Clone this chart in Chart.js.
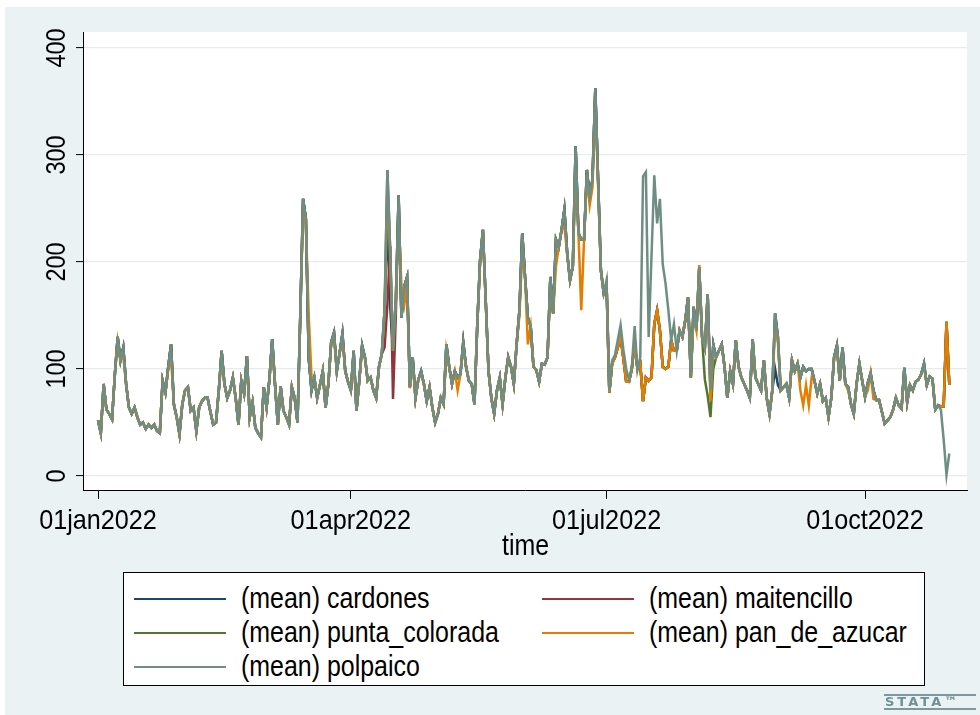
<!DOCTYPE html>
<html>
<head>
<meta charset="utf-8">
<title>Daily means 2022</title>
<script src="https://cdn.jsdelivr.net/npm/chart.js@4.4.1/dist/chart.umd.min.js"></script>
<style>
  html, body { margin: 0; padding: 0; background: #fff; }
  #frame { position: absolute; left: 5px; top: 7px; width: 975px; height: 708px; background: #eaf2f3; }
  #wrap { position: absolute; left: 0; top: 0; width: 980px; height: 715px; }
  .txt { position: absolute; font-family: "Liberation Sans", Arial, sans-serif; color: #000; line-height: 1; white-space: nowrap;
         transform: scaleX(0.86); transform-origin: left center; }
  #xtitle { left: 502px; top: 531px; font-size: 29px; }
  #legend { position: absolute; left: 123px; top: 572px; width: 800px; height: 112px; background: #fff; border: 1px solid #000; }
  .sample { position: absolute; width: 92px; height: 2px; }
  .item { font-size: 29px; }
  #logo { position: absolute; left: 884px; top: 694px; width: 91px; height: 12px; border-top: 2px solid #7c9a9e; border-bottom: 2px solid #7c9a9e;
          font-family: "DejaVu Sans", sans-serif; font-weight: bold; font-size: 13px; line-height: 12px; letter-spacing: 3px; color: #6f9095; padding-left: 1px; }
</style>
</head>
<body>
<div id="frame"></div>
<div id="wrap"><canvas id="chart" width="980" height="715"></canvas></div>
<div class="txt" id="xtitle">time</div>
<div id="legend"></div>
<div id="logo">STATA™</div>
<script>
// x axis: day index counted from 01jan2022
const tickDays = [0, 90, 181, 273];
const tickLabels = ['01jan2022', '01apr2022', '01jul2022', '01oct2022'];
const yTicks = [0, 100, 200, 300, 400];

const seriesNames = ['(mean) cardones', '(mean) maitencillo', '(mean) punta_colorada', '(mean) pan_de_azucar', '(mean) polpaico'];
const seriesColors = ['#1a476f', '#90353b', '#55752f', '#e37e00', '#6e8e84'];

// daily values, one row per month (jan .. oct)
const polpaico = [
  52,40,86,62,58,53,95,130,108,120,86,64,58,64,55,48,50,44,48,45,48,42,40,89,78,102,123,67,55,39,67,
  80,83,61,64,42,64,70,73,73,60,48,50,80,117,86,73,80,92,73,48,89,77,112,55,69,45,40,36,
  83,64,90,128,86,48,84,61,55,48,83,73,50,150,259,240,110,80,92,73,85,98,64,86,125,134,98,115,133,98,88,
  80,117,61,89,122,111,89,92,80,73,102,114,155,286,211,117,164,262,148,177,186,83,111,73,90,98,86,70,83,64,
  50,58,73,67,123,102,86,98,92,95,125,102,89,86,67,142,202,230,164,98,73,58,80,92,67,92,111,102,86,123,155,
  227,186,148,140,102,99,88,105,104,111,186,152,221,214,230,249,208,183,196,308,227,221,221,286,261,277,362,277,192,171,
  183,80,108,113,127,141,118,100,90,102,140,99,111,280,284,130,205,281,236,259,198,180,155,127,142,117,136,130,145,167,92,
  158,136,195,130,120,170,80,123,111,117,123,102,73,98,86,127,102,92,86,80,73,128,92,86,80,108,73,58,80,152,130,
  80,83,86,73,108,98,105,92,102,98,100,100,89,77,86,70,73,55,73,111,122,89,120,86,83,67,58,86,105,89,
  74,87,96,80,71,71,60,49,52,55,62,73,66,63,101,69,85,80,88,90,95,105,85,93,91,62,66,62,34,1,21
];

const panDeAzucar = [
  52,40,86,62,58,53,95,126,108,112,86,64,58,64,55,48,50,44,48,45,48,42,40,89,78,100,110,67,55,39,67,
  80,83,61,64,42,64,70,73,73,60,48,50,80,110,86,73,80,92,73,48,89,77,105,55,69,45,40,36,
  83,64,90,120,86,48,84,61,55,48,83,73,50,150,250,235,150,92,92,73,85,98,64,86,125,130,98,115,128,98,88,
  80,112,61,89,118,111,89,92,80,73,102,114,150,270,205,117,164,240,178,160,178,82,105,73,90,95,86,70,83,64,
  50,58,73,67,118,102,86,98,80,95,120,102,89,86,67,142,200,228,164,98,73,58,80,92,67,92,111,102,86,123,150,
  210,186,123,140,102,99,88,105,104,111,180,152,196,214,230,233,208,183,196,290,227,155,221,280,253,270,355,270,192,171,
  180,78,105,111,120,130,110,88,88,100,125,100,105,70,92,89,92,142,155,136,102,100,102,127,117,117,136,130,145,167,92,
  150,136,197,130,120,170,70,118,111,117,123,102,73,98,86,127,102,92,86,80,73,128,92,86,80,108,73,58,80,142,125,
  80,83,86,73,108,98,105,80,66,85,66,92,89,77,86,70,73,55,73,111,118,89,115,86,80,67,58,86,105,89,
  74,80,96,72,71,71,60,49,52,55,62,73,66,63,98,69,85,80,88,90,95,102,85,93,91,62,66,65,65,144,85
];

const cardones = [
  52,40,86,62,58,53,95,130,108,120,86,64,58,64,55,48,50,44,48,45,48,42,40,89,78,102,123,67,55,39,67,
  80,83,61,64,42,64,70,73,73,60,48,50,80,117,86,73,80,92,73,48,89,77,112,55,69,45,40,36,
  83,64,90,128,86,48,84,61,55,48,83,73,50,150,259,240,110,80,92,73,85,98,64,86,125,134,98,115,133,98,88,
  80,117,61,89,122,111,89,92,80,73,102,114,155,240,158,117,164,262,148,177,186,83,111,73,90,98,86,70,83,64,
  50,58,73,67,123,102,86,98,92,95,125,102,89,86,67,142,202,230,164,98,73,58,80,92,67,92,111,102,86,123,155,
  227,186,148,140,102,99,88,105,104,111,186,152,221,214,230,249,208,183,196,308,227,221,221,286,261,277,362,277,192,171,
  180,78,105,111,120,130,110,88,88,100,125,100,105,70,92,89,92,142,155,136,102,100,102,127,117,117,136,130,145,167,92,
  158,136,195,130,120,170,80,123,111,117,123,102,73,98,86,127,102,92,86,80,73,128,92,86,80,108,73,58,80,100,85,
  80,83,86,73,108,98,105,92,102,98,100,100,89,77,86,70,73,55,73,111,122,89,120,86,83,67,58,86,105,89,
  74,87,96,80,71,71,60,49,52,55,62,73,66,63,101,69,85,80,88,90,95,105,85,93,91,62,66,65,65,144,85
];

const maitencillo = [
  52,40,86,62,58,53,95,130,108,120,86,64,58,64,55,48,50,44,48,45,48,42,40,89,78,102,123,67,55,39,67,
  80,83,61,64,42,64,70,73,73,60,48,50,80,117,86,73,80,92,73,48,89,77,112,55,69,45,40,36,
  83,64,90,128,86,48,84,61,55,48,83,73,50,150,259,240,110,80,92,73,85,98,64,86,125,134,98,115,133,98,88,
  80,117,61,89,122,111,89,92,80,73,102,114,120,160,215,72,150,262,148,177,186,83,111,73,90,98,86,70,83,64,
  50,58,73,67,123,102,86,98,92,95,125,102,89,86,67,142,202,230,164,98,73,58,80,92,67,92,111,102,86,123,155,
  227,186,148,140,102,99,88,105,104,111,186,152,221,214,230,249,208,183,196,308,227,221,221,286,261,277,362,277,192,171,
  180,78,105,111,120,130,110,88,88,100,125,100,105,70,92,89,92,142,155,136,102,100,102,127,117,117,136,130,145,167,92,
  158,136,195,130,120,170,80,123,111,117,123,102,73,98,86,127,102,92,86,80,73,128,92,86,80,108,73,58,80,152,130,
  80,83,86,73,108,98,105,92,102,98,100,100,89,77,86,70,73,55,73,111,122,89,120,86,83,67,58,86,105,89,
  74,87,96,80,71,71,60,49,52,55,62,73,66,63,101,69,85,80,88,90,95,105,85,93,91,62,66,65,65,144,85
];

const puntaColorada = [
  52,40,86,62,58,53,95,130,108,120,86,64,58,64,55,48,50,44,48,45,48,42,40,89,78,102,123,67,55,39,67,
  80,83,61,64,42,64,70,73,73,60,48,50,80,117,86,73,80,92,73,48,89,77,112,55,69,45,40,36,
  83,64,90,128,86,48,84,61,55,48,83,73,50,150,259,240,110,80,92,73,85,98,64,86,125,134,98,115,133,98,88,
  80,117,61,89,122,111,89,92,80,73,102,114,155,286,211,117,164,262,148,177,186,83,111,73,90,98,86,70,83,64,
  50,58,73,67,123,102,86,98,92,95,125,102,89,86,67,142,202,230,164,98,73,58,80,92,67,92,111,102,86,123,155,
  227,186,148,140,102,99,88,105,104,111,186,152,221,214,230,249,208,183,196,308,227,221,221,286,261,277,362,277,192,171,
  180,78,105,111,120,130,110,88,88,100,125,100,105,70,92,89,92,142,155,136,102,100,102,127,117,117,136,130,145,167,92,
  158,136,195,130,90,75,55,100,111,117,123,102,73,98,86,127,102,92,86,80,73,128,92,86,80,108,73,58,80,152,130,
  80,83,86,73,108,98,105,92,102,98,100,100,89,77,86,70,73,55,73,111,122,89,120,86,83,67,58,86,105,89,
  74,87,96,80,71,71,60,49,52,55,62,73,66,63,101,69,85,80,88,90,95,105,85,93,91,62,66,65,65,144,85
];

const allSeries = [cardones, maitencillo, puntaColorada, panDeAzucar, polpaico];

const FONT = '"Liberation Sans", Arial, sans-serif';
const SQUEEZE = 0.9; // Stata's text is narrow

// white plot region on the blue graph region
const plotBg = {
  id: 'plotBg',
  beforeDraw(chart) {
    const { ctx, chartArea: a } = chart;
    ctx.save();
    ctx.fillStyle = '#fff';
    ctx.fillRect(a.left, a.top, a.right - a.left, a.bottom - a.top);
    ctx.restore();
  }
};

// tick labels drawn narrow; y ones turned on their side like Stata does
const axisLabels = {
  id: 'axisLabels',
  afterDraw(chart) {
    const { ctx, scales: { x, y } } = chart;
    ctx.save();
    ctx.font = '28px ' + FONT;
    ctx.fillStyle = '#000';
    ctx.textAlign = 'center';
    ctx.textBaseline = 'middle';
    yTicks.forEach(v => {
      ctx.save();
      ctx.translate(57, y.getPixelForValue(v));
      ctx.rotate(-Math.PI / 2);
      ctx.scale(0.84, 1);
      ctx.fillText(String(v), 0, 0);
      ctx.restore();
    });
    tickDays.forEach((d, i) => {
      ctx.save();
      ctx.translate(x.getPixelForValue(d), 521);
      ctx.scale(SQUEEZE, 1);
      ctx.fillText(tickLabels[i], 0, 0);
      ctx.restore();
    });
    ctx.restore();
  }
};

const datasets = allSeries.map((vals, i) => ({
  label: seriesNames[i],
  data: vals.map((v, d) => ({ x: d, y: v })),
  borderColor: seriesColors[i],
  borderWidth: 2.5,
  pointRadius: 0,
  tension: 0,
  order: allSeries.length - i   // polpaico drawn last, on top
}));

new Chart(document.getElementById('chart'), {
  type: 'line',
  data: { datasets },
  plugins: [plotBg, axisLabels],
  options: {
    responsive: false,
    animation: false,
    events: [],
    layout: { padding: { top: 32, right: 13, left: 0, bottom: 0 } },
    plugins: { legend: { display: false }, tooltip: { enabled: false } },
    scales: {
      x: {
        type: 'linear',
        min: -5.34,
        max: 309.3,
        afterBuildTicks: s => { s.ticks = tickDays.map(v => ({ value: v })); },
        afterFit: s => { s.height = 225; },
        grid: { drawOnChartArea: false, drawTicks: true, tickLength: 9, tickColor: '#000', tickWidth: 1 },
        border: { color: '#000', width: 1 },
        ticks: { display: false }
      },
      y: {
        min: -13.1,
        max: 414.9,
        afterBuildTicks: s => { s.ticks = yTicks.map(v => ({ value: v })); },
        afterFit: s => { s.width = 83; },
        grid: { color: '#e4ecee', lineWidth: 1.2, drawTicks: true, tickLength: 7, tickColor: '#000', tickWidth: 1 },
        border: { color: '#000', width: 1 },
        ticks: { display: false }
      }
    }
  }
});

// legend box, two columns like Stata's
const legend = document.getElementById('legend');
const slots = [[10, 26], [418, 26], [10, 60], [418, 60], [10, 94]];
seriesNames.forEach((name, i) => {
  const [lx, cy] = slots[i];
  const line = document.createElement('div');
  line.className = 'sample';
  line.style.left = lx + 'px';
  line.style.top = (cy - 1) + 'px';
  line.style.background = seriesColors[i];
  legend.appendChild(line);
  const t = document.createElement('div');
  t.className = 'txt item';
  t.style.left = (lx + 107) + 'px';
  t.style.top = (cy - 15) + 'px';
  t.textContent = name;
  legend.appendChild(t);
});
</script>
</body>
</html>
